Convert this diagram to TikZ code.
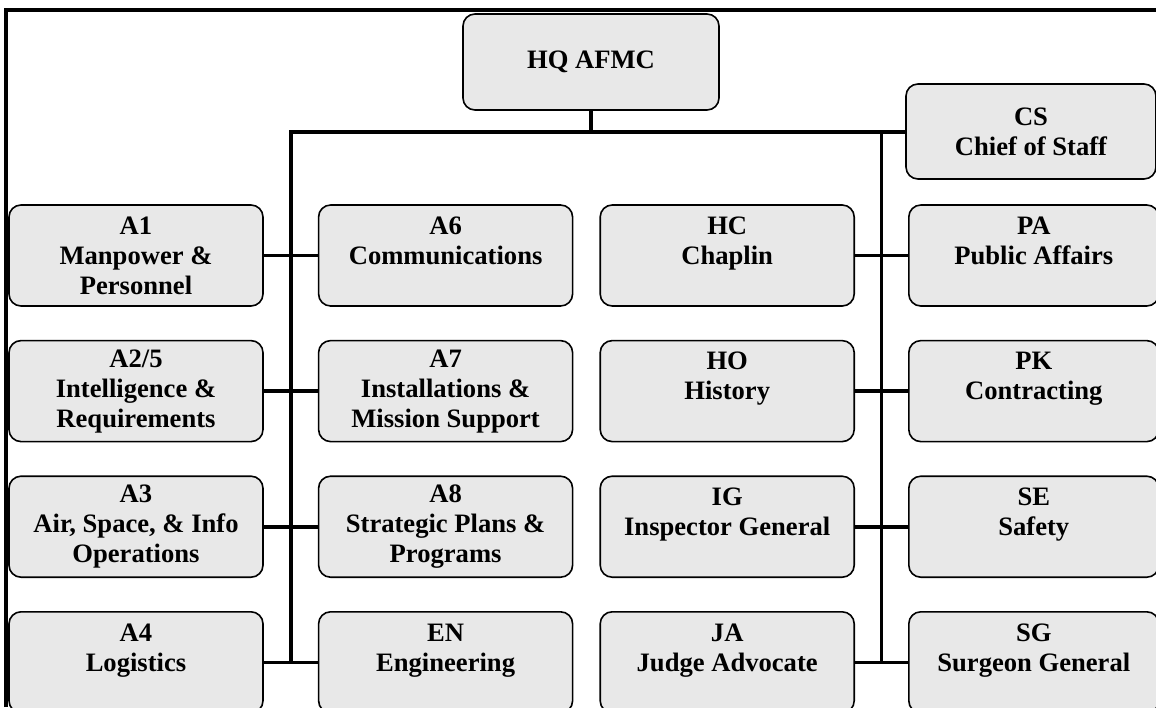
\documentclass[tikz,border=0pt]{standalone}
\usepackage{fontspec}
\setmainfont{Liberation Serif}
\usepackage{tikz}
\usetikzlibrary{positioning, calc}
\definecolor{unitgray}{RGB}{232,232,232}

\begin{document}
\begin{tikzpicture}[
    x=1pt, y=1pt,
    node distance=16.5pt and 27pt,
    font=\fontsize{13.3}{15}\selectfont\bfseries,
    every node/.style={align=center},
    unit/.style={draw, rounded corners=6pt, line width=0.8pt, minimum height=50.5pt, minimum width=127pt, fill=unitgray},
    link/.style={line width=1.8pt},
    frame/.style={line width=2pt},
]
\useasboundingbox (0,0) rectangle (578,-353.5);

% --- Page frame (only top and left edges show)
\draw[frame] (3,-353.5) -- (3,-5) -- (578,-5);

% --- Top: command and chief of staff
\node[unit, minimum width=128pt, minimum height=48pt] (hq) at (295.5,-31) {HQ AFMC};
\node[unit, minimum width=125pt, minimum height=47.5pt] (cs) at (515.5,-65.75) {CS\\Chief of Staff};

% --- Column 1
\node[unit] (a1) at (68,-127.75) {A1\\Manpower \&\\Personnel};
\node[unit, below=of a1]  (a25) {A2/5\\Intelligence \&\\Requirements};
\node[unit, below=of a25] (a3)  {A3\\Air, Space, \& Info\\Operations};
\node[unit, below=of a3]  (a4)  {A4\\Logistics\\\mbox{}};

% --- Column 2
\node[unit, right=of a1]  (a6) {A6\\Communications\\\mbox{}};
\node[unit, right=of a25] (a7) {A7\\Installations \&\\Mission Support};
\node[unit, right=of a3]  (a8) {A8\\Strategic Plans \&\\Programs};
\node[unit, right=of a4]  (en) {EN\\Engineering\\\mbox{}};

% --- Column 3
\node[unit, right=13pt of a6] (hc) {HC\\Chaplin\\\mbox{}};
\node[unit, right=13pt of a7] (ho) {HO\\History\\\mbox{}};
\node[unit, right=13pt of a8] (ig) {IG\\Inspector General\\\mbox{}};
\node[unit, right=13pt of en] (ja) {JA\\Judge Advocate\\\mbox{}};

% --- Column 4
\node[unit, minimum width=125pt, right=26.5pt of hc] (pa) {PA\\Public Affairs\\\mbox{}};
\node[unit, minimum width=125pt, right=26.5pt of ho] (pk) {PK\\Contracting\\\mbox{}};
\node[unit, minimum width=125pt, right=26.5pt of ig] (se) {SE\\Safety\\\mbox{}};
\node[unit, minimum width=125pt, right=26.5pt of ja] (sg) {SG\\Surgeon General\\\mbox{}};

% --- Trunks
\coordinate (bus)  at (295.5,-66);
\coordinate (lmid) at ($(a1.east)!0.5!(a6.west)$);
\coordinate (rmid) at ($(hc.east)!0.5!(pa.west)$);

\draw[link] (hq) -- (bus);
\draw[link] (lmid |- a4) -- (lmid |- bus) -- (cs.west |- bus);
\draw[link] (rmid |- bus) -- (rmid |- sg);

% --- Stubs across the trunks
\draw[link] (a1)  -- (a6);
\draw[link] (a25) -- (a7);
\draw[link] (a3)  -- (a8);
\draw[link] (a4)  -- (en);
\draw[link] (hc)  -- (pa);
\draw[link] (ho)  -- (pk);
\draw[link] (ig)  -- (se);
\draw[link] (ja)  -- (sg);

\end{tikzpicture}
\end{document}
